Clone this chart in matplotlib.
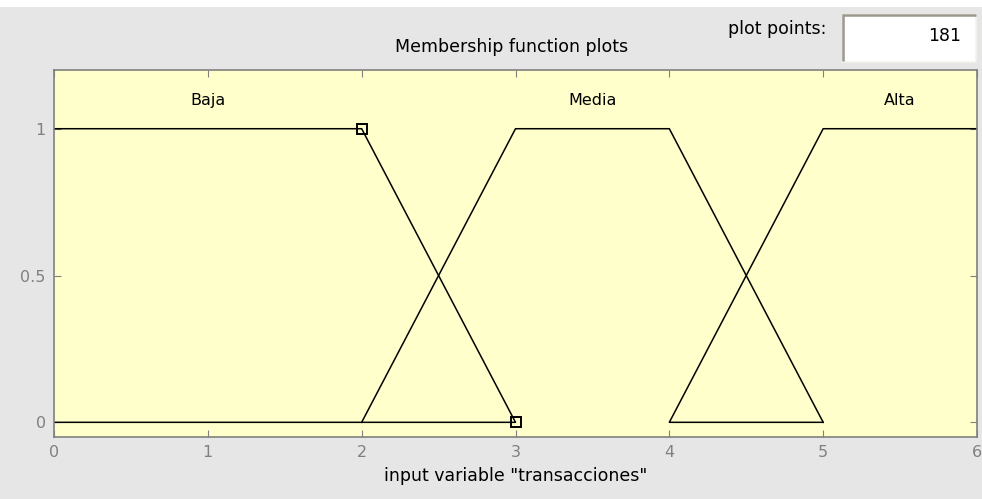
import matplotlib.pyplot as plt
from matplotlib.patches import Rectangle
from matplotlib.lines import Line2D

# membership functions of "transacciones"
baja_x = [0, 2, 3, 0]
baja_y = [1, 1, 0, 0]
media_x = [2, 3, 4, 5]
media_y = [0, 1, 1, 0]
alta_x = [5, 4, 5, 6]
alta_y = [0, 0, 1, 1]

mf_names = ['Baja', 'Media', 'Alta']
mf_label_x = [1, 3.5, 5.5]

# selected MF (Baja) control points
sel_x = [2, 3]
sel_y = [1, 0]

x_ticks = [0, 1, 2, 3, 4, 5, 6]
y_ticks = [0, 0.5, 1]
y_ticklabels = ['0', '0.5', '1']
plot_points = 181

bg = '#e6e6e6'
face = '#ffffcc'
grey = '#808080'

fig = plt.figure(figsize=(9.82, 4.99), dpi=100)
fig.patch.set_facecolor(bg)
# white strip on top of the window
fig.add_artist(Rectangle((0, 1 - 7 / 499), 1, 7 / 499, transform=fig.transFigure,
                         facecolor='white', edgecolor='none'))

ax = fig.add_axes([54 / 982, 1 - 437 / 499, 923 / 982, 367 / 499])
ax.set_facecolor(face)

for xs, ys in [(baja_x, baja_y), (media_x, media_y), (alta_x, alta_y)]:
    ax.plot(xs, ys, color='black', lw=1.1)
ax.plot(sel_x, sel_y, ls='none', marker='s', ms=7.5, mfc='none', mec='black', mew=1.4)

for name, lx in zip(mf_names, mf_label_x):
    ax.text(lx, 1.095, name, ha='center', va='center', fontsize=11.5, color='black')

ax.set_xlim(0, 6)
ax.set_ylim(-0.05, 1.2)
ax.set_xticks(x_ticks)
ax.set_yticks(y_ticks)
ax.set_yticklabels(y_ticklabels)
ax.tick_params(direction='in', length=5, colors=grey, labelsize=11.5, top=True, right=True, pad=6)
for sp in ax.spines.values():
    sp.set_color(grey)
    sp.set_linewidth(1.2)

ax.set_xlabel('input variable "transacciones"', fontsize=12.5, color='black', labelpad=5)
fig.text(512 / 982, 1 - 47 / 499, 'Membership function plots', ha='center', va='center',
         fontsize=12.5, color='black')

# plot points box
fig.text(826 / 982, 1 - 29 / 499, 'plot points:', ha='right', va='center', fontsize=12.5, color='black')
fig.add_artist(Rectangle((842 / 982, 1 - 62 / 499), 134 / 982, 48 / 499, transform=fig.transFigure,
                         facecolor='white', edgecolor='none'))
# sunken border: dark top/left, light bottom/right
fig.add_artist(Line2D([842 / 982, 976 / 982, 976 / 982], [1 - 62 / 499, 1 - 62 / 499, 1 - 14 / 499],
                      transform=fig.transFigure, color='#f4f3ec', lw=1.2))
fig.add_artist(Line2D([843 / 982, 843 / 982, 976 / 982], [1 - 61 / 499, 1 - 15 / 499, 1 - 15 / 499],
                      transform=fig.transFigure, color='#9a988a', lw=1.8, solid_joinstyle='miter',
                      solid_capstyle='butt'))
fig.text(961 / 982, 1 - 36 / 499, str(plot_points), ha='right', va='center', fontsize=12.5, color='black')

fig.savefig('out.png', dpi=100, facecolor=fig.get_facecolor())
